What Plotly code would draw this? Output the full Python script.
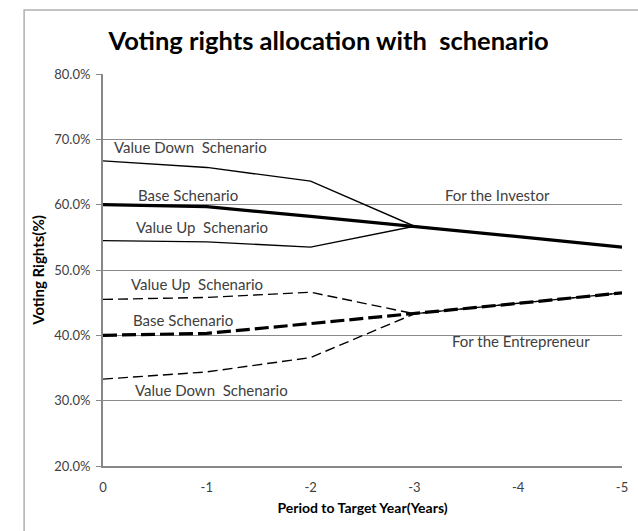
import plotly.graph_objects as go

# Period to target year (categories along the x axis)
periods = ["0", "-1", "-2", "-3", "-4", "-5"]

# Voting rights (%) held by the investor
investor_down = [66.7, 65.7, 63.6, 56.7, 55.1, 53.5]
investor_base = [60.0, 59.7, 58.2, 56.7, 55.1, 53.5]
investor_up = [54.5, 54.3, 53.5, 56.7, 55.1, 53.5]

# Voting rights (%) held by the entrepreneur
entrepreneur_up = [45.5, 45.8, 46.6, 43.3, 44.9, 46.5]
entrepreneur_base = [40.0, 40.3, 41.8, 43.3, 44.9, 46.5]
entrepreneur_down = [33.3, 34.4, 36.6, 43.3, 44.9, 46.5]

y_ticks = [20, 30, 40, 50, 60, 70, 80]
y_tick_labels = ["20.0%", "30.0%", "40.0%", "50.0%", "60.0%", "70.0%", "80.0%"]

FONT = "Lato, Calibri, sans-serif"
TXT = "#404040"

fig = go.Figure()

series = [
    (investor_down, "solid", 1.4),
    (investor_up, "solid", 1.4),
    (investor_base, "solid", 3.2),
    (entrepreneur_up, "10px,5px", 1.4),
    (entrepreneur_down, "10px,5px", 1.4),
    (entrepreneur_base, "14px,5px", 3.2),
]
for values, dash, width in series:
    fig.add_trace(go.Scatter(
        x=periods, y=values, mode="lines",
        line=dict(color="black", width=width, dash=dash),
        showlegend=False, hoverinfo="skip",
    ))

# Scenario labels: text, anchor category, y value, offset in categories
labels = [
    ("Value Down  Schenario", "0", 68.9, 0.086),
    ("Base Schenario", "0", 61.5, 0.315),
    ("Value Up  Schenario", "0", 56.6, 0.296),
    ("For the Investor", "-3", 61.5, 0.273),
    ("Value Up  Schenario", "0", 47.9, 0.248),
    ("Base Schenario", "0", 42.4, 0.267),
    ("Value Down  Schenario", "0", 31.7, 0.286),
    ("For the Entrepreneur", "-3", 39.2, 0.34),
]
for text, xcat, yv, shift in labels:
    fig.add_annotation(
        x=periods.index(xcat) + shift, y=yv, xref="x", yref="y",
        text=text.replace("  ", "\u00a0 "), showarrow=False,
        xanchor="left", yanchor="middle",
        font=dict(family=FONT, size=15, color=TXT),
    )

# Outer chart frame
fig.add_shape(type="rect", xref="paper", yref="paper",
              x0=-0.152, x1=1.05, y0=-0.2, y1=1.163,
              line=dict(color="#b0b0b0", width=1.5), layer="below")

fig.update_layout(
    width=638, height=531,
    margin=dict(l=103, r=10, t=74, b=65),
    paper_bgcolor="white", plot_bgcolor="white",
    title=dict(
        text="<b>Voting rights allocation with\u00a0 schenario</b>",
        x=0.515, xanchor="center", y=0.923, yanchor="middle",
        font=dict(family=FONT, size=25.5, color="black"),
    ),
    xaxis=dict(
        type="category", range=[0, 5],
        showgrid=False, showline=True, linecolor="#888888", linewidth=2,
        ticks="", ticklabelstandoff=8,
        tickfont=dict(family=FONT, size=13, color=TXT),
        title=dict(text="<b>Period to Target Year(Years)</b>",
                   font=dict(family=FONT, size=14, color="black"), standoff=10),
        fixedrange=True,
    ),
    yaxis=dict(
        range=[20, 80], tickvals=y_ticks, ticktext=y_tick_labels,
        showgrid=True, gridcolor="#8a8a8a", gridwidth=1,
        showline=True, linecolor="#888888", linewidth=2,
        ticks="outside", ticklen=5, tickcolor="#888888",
        ticklabelstandoff=3,
        tickfont=dict(family=FONT, size=13, color=TXT),
        title=dict(text="<b>Voting Rights(%)</b>",
                   font=dict(family=FONT, size=15, color="black"), standoff=6),
        zeroline=False, fixedrange=True,
    ),
)

fig.write_html("out.html")
